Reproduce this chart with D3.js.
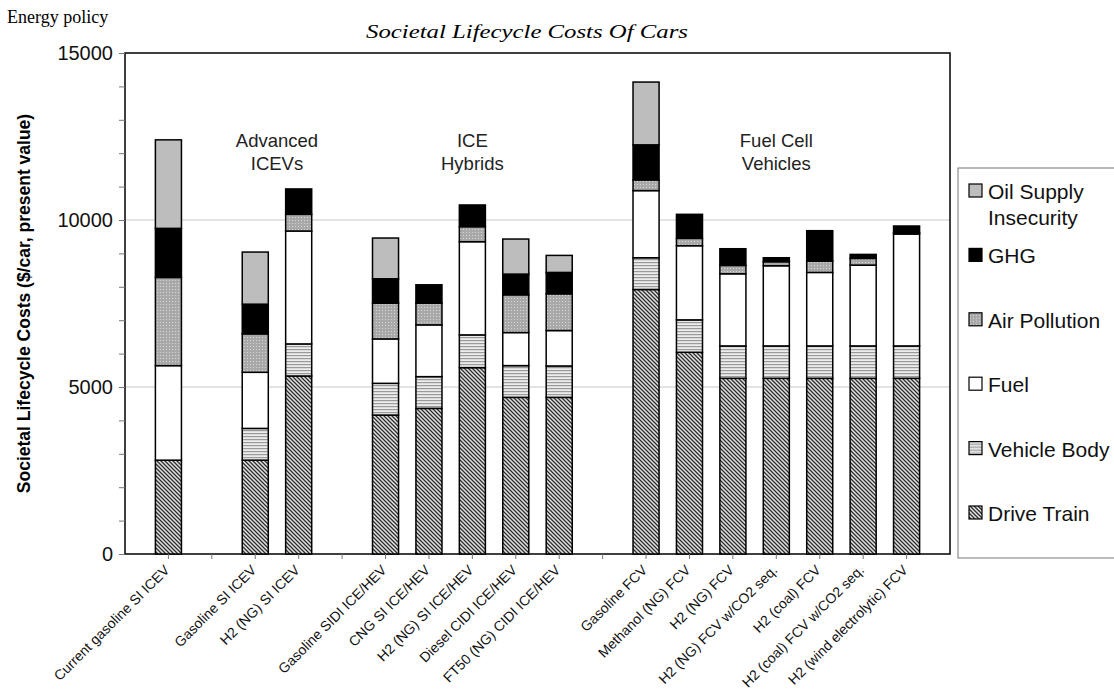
<!DOCTYPE html>
<html>
<head>
<meta charset="utf-8">
<script src="https://cdn.jsdelivr.net/npm/d3@7"></script>
<style>
  body { margin: 0; background: #fff; }
  svg { display: block; }
</style>
</head>
<body>
<div id="chart"></div>
<script>
// categories ("" = spacer between vehicle groups)
const categories = [
    "Current gasoline SI ICEV", "",
    "Gasoline SI ICEV", "H2 (NG) SI ICEV", "",
    "Gasoline SIDI ICE/HEV", "CNG SI ICE/HEV", "H2 (NG) SI ICE/HEV", "Diesel CIDI ICE/HEV", "FT50 (NG) CIDI ICE/HEV", "",
    "Gasoline FCV", "Methanol (NG) FCV", "H2 (NG) FCV", "H2 (NG) FCV w/CO2 seq.", "H2 (coal) FCV", "H2 (coal) FCV w/CO2 seq.", "H2 (wind electrolytic) FCV"
];

// cost components, $/car
const driveTrain   = [2810, 0, 2810, 5330, 0, 4160, 4360, 5580, 4690, 4690, 0, 7920, 6040, 5260, 5260, 5260, 5260, 5260];
const vehicleBody  = [0,    0, 950,  960,  0, 950,  950,  980,  950,  940,  0, 950,  970,  970,  970,  970,  970,  970];
const fuel         = [2830, 0, 1680, 3380, 0, 1330, 1550, 2790, 990,  1060, 0, 2010, 2220, 2160, 2400, 2200, 2420, 3350];
const airPollution = [2640, 0, 1150, 500,  0, 1070, 650,  450,  1130, 1100, 0, 320,  220,  250,  120,  340,  200,  40];
const ghg          = [1470, 0, 890,  760,  0, 730,  550,  650,  620,  640,  0, 1050, 720,  500,  120,  910,  120,  200];
const oilSupply    = [2650, 0, 1560, 0,    0, 1220, 0,    0,    1050, 510,  0, 1880, 0,    0,    0,    0,    0,    0];

const yTicks = [0, 5000, 10000, 15000];

const groupLabels = [
    { lines: ["Advanced", "ICEVs"], at: [2, 3] },
    { lines: ["ICE", "Hybrids"], at: [7, 7] },
    { lines: ["Fuel Cell", "Vehicles"], at: [14, 14] }
];

const seriesNames = ["Drive Train", "Vehicle Body", "Fuel", "Air Pollution", "GHG", "Oil Supply Insecurity"];
const seriesFill = {
    "Drive Train": "url(#hatch)",
    "Vehicle Body": "url(#stripes)",
    "Fuel": "#ffffff",
    "Air Pollution": "url(#dots)",
    "GHG": "#000000",
    "Oil Supply Insecurity": "#bdbdbd"
};

const rows = categories.map((c, i) => ({
    i: i,
    "Drive Train": driveTrain[i],
    "Vehicle Body": vehicleBody[i],
    "Fuel": fuel[i],
    "Air Pollution": airPollution[i],
    "GHG": ghg[i],
    "Oil Supply Insecurity": oilSupply[i]
}));

const width = 1114, height = 691;
const margin = { top: 53, right: 164, bottom: 137, left: 125 };
const sans = "'Liberation Sans', Arial, sans-serif";
const serif = "'Liberation Serif', 'Times New Roman', serif";

const svg = d3.select("#chart")
    .append("svg")
    .attr("width", width)
    .attr("height", height);

// fill patterns
const defs = svg.append("defs");

const hatch = defs.append("pattern")
    .attr("id", "hatch")
    .attr("patternUnits", "userSpaceOnUse")
    .attr("width", 4).attr("height", 4);
hatch.append("rect").attr("width", 4).attr("height", 4).attr("fill", "#e2e2e2");
hatch.append("path")
    .attr("d", "M-1,-1L5,5M3,-1L5,1M-1,3L1,5")
    .attr("stroke", "#2e2e2e").attr("stroke-width", 1.3);

const stripes = defs.append("pattern")
    .attr("id", "stripes")
    .attr("patternUnits", "userSpaceOnUse")
    .attr("width", 4).attr("height", 3);
stripes.append("rect").attr("width", 4).attr("height", 3).attr("fill", "#ececec");
stripes.append("rect").attr("y", 1).attr("width", 4).attr("height", 1.2).attr("fill", "#9a9a9a");

const dots = defs.append("pattern")
    .attr("id", "dots")
    .attr("patternUnits", "userSpaceOnUse")
    .attr("width", 3).attr("height", 3);
dots.append("rect").attr("width", 3).attr("height", 3).attr("fill", "#a9a9a9");
dots.append("rect").attr("x", 1).attr("y", 1).attr("width", 1).attr("height", 1).attr("fill", "#d6d6d6");

const x = d3.scaleBand()
    .domain(d3.range(categories.length))
    .range([margin.left, width - margin.right])
    .paddingInner(0)
    .paddingOuter(0.5);

const y = d3.scaleLinear()
    .domain([0, 15000])
    .range([height - margin.bottom, margin.top]);

const barW = x.bandwidth() * 0.6;

// gridlines
svg.append("g")
    .selectAll("line")
    .data(yTicks.filter(t => t > 0 && t < 15000))
    .join("line")
    .attr("x1", margin.left).attr("x2", width - margin.right)
    .attr("y1", d => y(d)).attr("y2", d => y(d))
    .attr("stroke", "#c8c8c8").attr("stroke-width", 1.2);

// plot frame
svg.append("rect")
    .attr("x", margin.left).attr("y", margin.top)
    .attr("width", width - margin.right - margin.left)
    .attr("height", height - margin.bottom - margin.top)
    .attr("fill", "none").attr("stroke", "#111").attr("stroke-width", 1.6);

// stacked bars
const stacked = d3.stack().keys(seriesNames)(rows);

svg.append("g")
    .selectAll("g")
    .data(stacked)
    .join("g")
    .attr("fill", d => seriesFill[d.key])
    .selectAll("rect")
    .data(d => d.filter(s => s[1] - s[0] > 0))
    .join("rect")
    .attr("x", d => x(d.data.i) + (x.bandwidth() - barW) / 2)
    .attr("y", d => y(d[1]))
    .attr("width", barW)
    .attr("height", d => y(d[0]) - y(d[1]))
    .attr("stroke", "#000")
    .attr("stroke-width", 1.5);

// y axis
const yAxis = svg.append("g")
    .attr("transform", `translate(${margin.left},0)`)
    .call(d3.axisLeft(y).tickValues(d3.range(0, 15001, 1000))
        .tickSize(6).tickPadding(6)
        .tickFormat(d => yTicks.includes(d) ? d : ""));
yAxis.select(".domain").remove();
yAxis.selectAll(".tick line").attr("stroke", "#777");
yAxis.selectAll("text")
    .style("font-family", sans).style("font-size", "20px").attr("fill", "#111");

// x axis
const xAxis = svg.append("g")
    .attr("transform", `translate(0,${height - margin.bottom})`)
    .call(d3.axisBottom(x).tickSize(5).tickFormat(i => categories[i]));
xAxis.select(".domain").remove();
xAxis.selectAll(".tick line").attr("stroke", "#777");
xAxis.selectAll("text")
    .style("font-family", sans).style("font-size", "14px").attr("fill", "#111")
    .style("text-anchor", "end")
    .attr("x", 0).attr("y", 0).attr("dy", "0.5em")
    .attr("transform", "translate(-3,12) rotate(-45)");

// y axis title
svg.append("text")
    .attr("transform", `translate(30,${(margin.top + height - margin.bottom) / 2}) rotate(-90)`)
    .attr("text-anchor", "middle")
    .style("font-family", sans).style("font-size", "17.5px").style("font-weight", "bold")
    .text("Societal Lifecycle Costs ($/car, present value)");

// group labels
groupLabels.forEach(g => {
    const cx = (x(g.at[0]) + x(g.at[1])) / 2 + x.bandwidth() / 2;
    const t = svg.append("text")
        .attr("text-anchor", "middle")
        .style("font-family", sans).style("font-size", "18.5px").attr("fill", "#222");
    g.lines.forEach((l, k) => {
        t.append("tspan").attr("x", cx).attr("y", 147 + k * 23).text(l);
    });
});

// headings
svg.append("text")
    .attr("x", 7).attr("y", 23)
    .style("font-family", serif).style("font-size", "18px")
    .text("Energy policy");

svg.append("text")
    .attr("x", 366).attr("y", 38)
    .attr("textLength", 322).attr("lengthAdjust", "spacingAndGlyphs")
    .style("font-family", serif).style("font-size", "18px").style("font-style", "italic")
    .text("Societal Lifecycle Costs Of Cars");

// legend
const legend = svg.append("g");
legend.append("rect")
    .attr("x", 958).attr("y", 168)
    .attr("width", 170).attr("height", 390)
    .attr("fill", "#fff").attr("stroke", "#777").attr("stroke-width", 1);

const legendItems = seriesNames.slice().reverse();
const legendRow = legend.selectAll("g")
    .data(legendItems)
    .join("g")
    .attr("transform", (d, k) => `translate(969,${191 + k * 64.4})`);
legendRow.append("rect")
    .attr("x", 0).attr("y", -7)
    .attr("width", 13).attr("height", 13)
    .attr("fill", d => seriesFill[d])
    .attr("stroke", "#000").attr("stroke-width", 1.2);
legendRow.append("text")
    .style("font-family", sans).style("font-size", "21px").attr("fill", "#111")
    .each(function (d) {
        const lines = d === "Oil Supply Insecurity" ? ["Oil Supply", "Insecurity"] : [d];
        lines.forEach((l, k) => {
            d3.select(this).append("tspan")
                .attr("x", 19).attr("y", 8 + k * 26).text(l);
        });
    });
</script>
</body>
</html>
